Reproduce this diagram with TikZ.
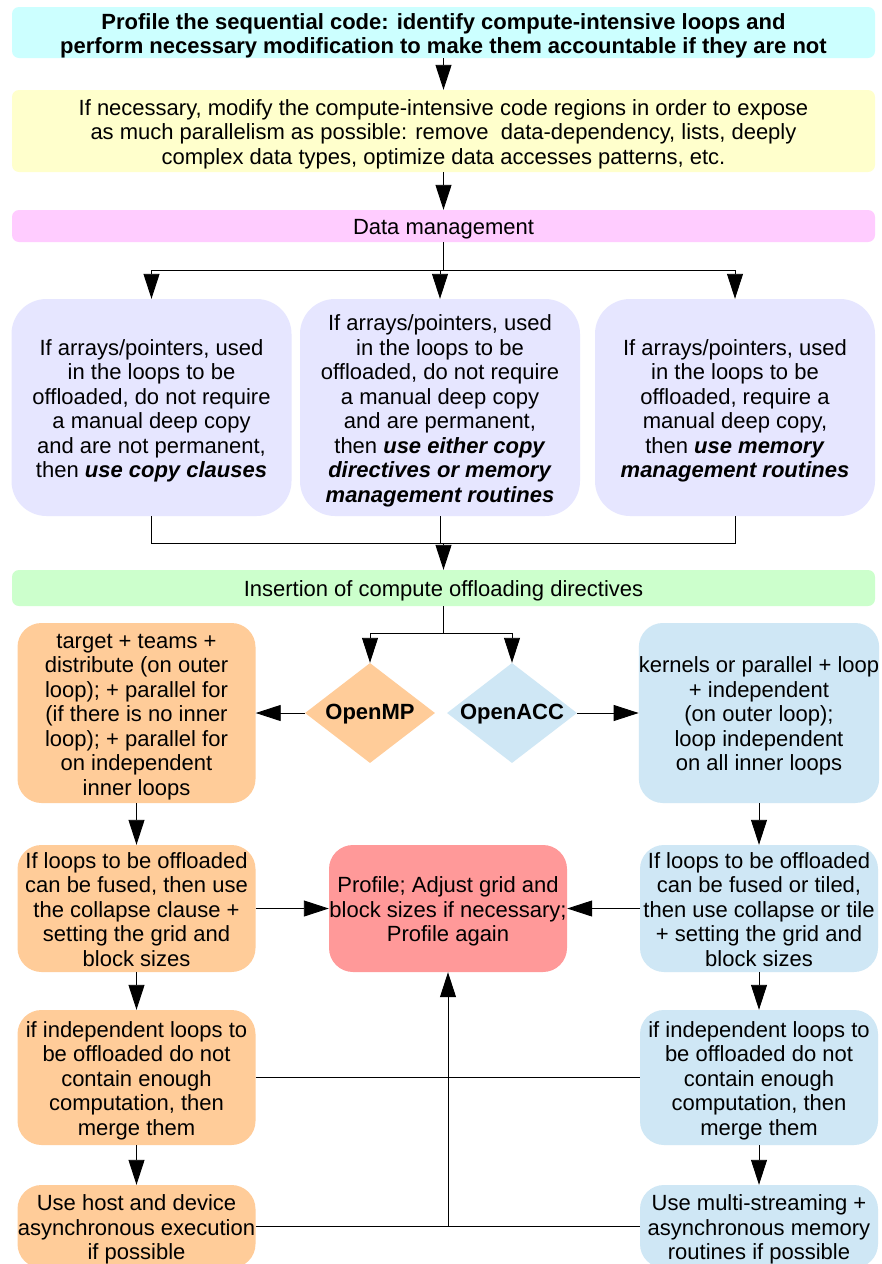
\documentclass[tikz,border=0pt]{standalone}
\usepackage{fontspec}
\setmainfont{Liberation Sans}
\usetikzlibrary{shapes.geometric,arrows.meta}

\definecolor{cCyan}{HTML}{CCFFFF}
\definecolor{cYellow}{HTML}{FFFFCC}
\definecolor{cPink}{HTML}{FFCCFF}
\definecolor{cLav}{HTML}{E6E6FF}
\definecolor{cGreen}{HTML}{CCFFCC}
\definecolor{cOrange}{HTML}{FFCC99}
\definecolor{cBlue}{HTML}{CFE7F5}
\definecolor{cRed}{HTML}{FF9999}

% centred block of lines with a uniform line pitch, lowered slightly
% while keeping its nominal size for the node's centring
\newcommand{\boxlines}[1]{\raisebox{-4pt}[\height][\depth]{\begin{tabular}{@{}c@{}}#1\end{tabular}}}

\tikzset{
  txt/.style={font=\fontsize{22}{24.5}\selectfont, inner sep=0pt},
  band/.style={txt, rectangle, rounded corners=7pt, minimum width=863pt},
  lavbox/.style={txt, rectangle, rounded corners=35pt, fill=cLav, minimum width=280pt, minimum height=217pt},
  stepbox/.style={txt, rectangle, rounded corners=24pt, minimum width=238pt},
  choice/.style={diamond, inner sep=0pt, minimum width=130pt, minimum height=100pt},
  choicetext/.style={font=\fontsize{22}{24.5}\selectfont\bfseries, inner sep=0pt, yshift=-1pt},
  arr/.style={draw=black, line width=0.9pt, -{Triangle[length=25pt,width=16pt]}},
  ln/.style={draw=black, line width=0.9pt},
}

\begin{document}
\begin{tikzpicture}[x=1pt,y=-1pt]
\clip (0,0) rectangle (882,1264);
\fill[white] (0,0) rectangle (882,1264);

% sequential preparation
\node[band, fill=cCyan, minimum height=51pt, font=\fontsize{22}{24.5}\selectfont\bfseries] (prof) at (443.5,32.5)
  {\boxlines{Profile the sequential code: identify compute-intensive loops and\\perform necessary modification to make them accountable if they are not}};
\node[band, fill=cYellow, minimum height=82pt] (expose) at (443.5,131)
  {\boxlines{If necessary, modify the compute-intensive code regions in order to expose\\as much parallelism as possible: remove\ \ data-dependency, lists, deeply\\complex data types, optimize data accesses patterns, etc.}};
\node[band, fill=cPink, minimum height=32pt] (data) at (443.5,226) {\boxlines{Data management}};

% data management options
\node[lavbox] (dL) at (151.5,407.5)
  {\boxlines{If arrays/pointers, used\\in the loops to be\\offloaded, do not require\\a manual deep copy\\and are not permanent,\\then \textbf{\textit{use copy clauses}}}};
\node[lavbox] (dM) at (440,407.5)
  {\boxlines{If arrays/pointers, used\\in the loops to be\\offloaded, do not require\\a manual deep copy\\and are permanent,\\then \textbf{\textit{use either copy}}\\\textbf{\textit{directives or memory}}\\\textbf{\textit{management routines}}}};
\node[lavbox] (dR) at (735,407.5)
  {\boxlines{If arrays/pointers, used\\in the loops to be\\offloaded, require a\\manual deep copy,\\then \textbf{\textit{use memory}}\\\textbf{\textit{management routines}}}};

\node[band, fill=cGreen, minimum height=36pt] (ins) at (443.5,588) {\boxlines{Insertion of compute offloading directives}};

% directive families
\node[choice, fill=cOrange, label={[choicetext]center:OpenMP}] (omp) at (370,713) {};
\node[choice, fill=cBlue, label={[choicetext]center:OpenACC}] (acc) at (512,713) {};

% OpenMP path
\node[stepbox, fill=cOrange, minimum height=180pt] (o1) at (136.5,713)
  {\boxlines{target + teams +\\distribute (on outer\\loop); + parallel for\\(if there is no inner\\loop); + parallel for\\on independent\\inner loops}};
\node[stepbox, fill=cOrange, minimum height=127pt] (o2) at (136.5,908.5)
  {\boxlines{If loops to be offloaded\\can be fused, then use\\the collapse clause +\\setting the grid and\\block sizes}};
\node[stepbox, fill=cOrange, minimum height=135pt] (o3) at (136.5,1077.5)
  {\boxlines{if independent loops to\\be offloaded do not\\contain enough\\computation, then\\merge them}};
\node[stepbox, fill=cOrange, minimum height=83pt] (o4) at (136.5,1226.5)
  {\boxlines{Use host and device\\asynchronous execution\\if possible}};

% OpenACC path
\node[stepbox, fill=cBlue, minimum height=180pt] (a1) at (759,713)
  {\boxlines{kernels or parallel + loop\\+ independent\\(on outer loop);\\loop independent\\on all inner loops}};
\node[stepbox, fill=cBlue, minimum height=127pt] (a2) at (759,908.5)
  {\boxlines{If loops to be offloaded\\can be fused or tiled,\\then use collapse or tile\\+ setting the grid and\\block sizes}};
\node[stepbox, fill=cBlue, minimum height=135pt] (a3) at (759,1077.5)
  {\boxlines{if independent loops to\\be offloaded do not\\contain enough\\computation, then\\merge them}};
\node[stepbox, fill=cBlue, minimum height=83pt] (a4) at (759,1226.5)
  {\boxlines{Use multi-streaming +\\asynchronous memory\\routines if possible}};

% tuning
\node[stepbox, fill=cRed, minimum height=127pt] (tune) at (448,908.5)
  {\boxlines{Profile; Adjust grid and\\block sizes if necessary;\\Profile again}};

% junction points
\coordinate (split1) at (443.5,270);
\coordinate (join1) at (443.5,543);
\coordinate (split2) at (443.5,633);

% connectors
\draw[arr] (prof) -- (expose);
\draw[arr] (expose) -- (data);
\draw[ln] (data.south) -- (split1);
\draw[arr] (split1) -| (dL.north);
\draw[arr] (split1) -| (dM.north);
\draw[arr] (split1) -| (dR.north);
\draw[ln] (dL.south) |- (join1);
\draw[ln] (dR.south) |- (join1);
\draw[ln] (dM.south) -- (dM.south |- join1);
\draw[arr] (join1) -- (ins.north);
\draw[ln] (ins.south) -- (split2);
\draw[arr] (split2) -| (omp.north);
\draw[arr] (split2) -| (acc.north);
\draw[arr] (omp.west) -- (o1.east |- omp.west);
\draw[arr] (acc.east) -- (a1.west |- acc.east);
\draw[arr] (o1) -- (o2);
\draw[arr] (o2) -- (o3);
\draw[arr] (o3) -- (o4);
\draw[arr] (a1) -- (a2);
\draw[arr] (a2) -- (a3);
\draw[arr] (a3) -- (a4);
\draw[arr] (o2.east) -- (tune.west);
\draw[arr] (a2.west) -- (tune.east);
\draw[ln] (o3.east) -- (a3.west);
\draw[ln] (o4.east) -- (a4.west);
\draw[arr] (tune.south |- o4.east) -- (tune.south);
\end{tikzpicture}
\end{document}
